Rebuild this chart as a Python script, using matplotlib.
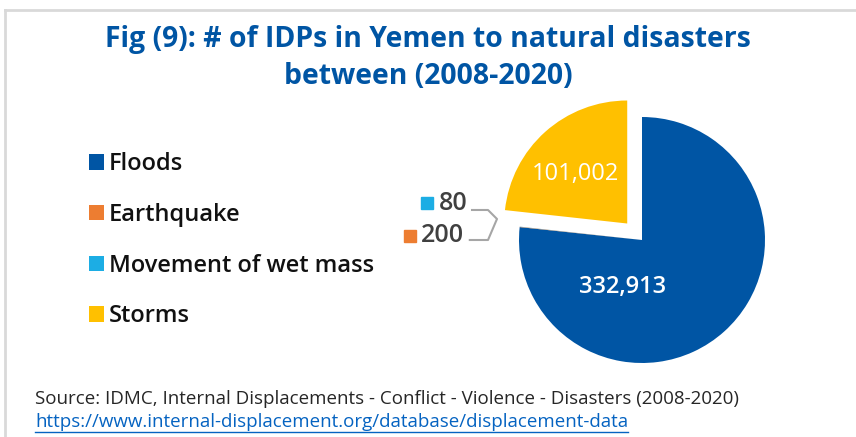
import matplotlib
matplotlib.use("Agg")
import matplotlib.pyplot as plt
from matplotlib.lines import Line2D

# Data
categories = ["Floods", "Earthquake", "Movement of wet mass", "Storms"]
idps = [332913, 200, 80, 101002]
colors = ["#0055A4", "#ED7D31", "#1CADE4", "#FFC000"]

plt.rcParams['font.family'] = ['Open Sans', 'DejaVu Sans']

W, H = 856, 437
fig = plt.figure(figsize=(W / 100, H / 100), dpi=100)

# light frame (top and left edges)
fig.add_artist(Line2D([5 / W, 1], [1 - 10 / H, 1 - 10 / H], color="#d9d9d9", lw=2))
fig.add_artist(Line2D([5 / W, 5 / W], [0, 1 - 10 / H], color="#d9d9d9", lw=2))

fig.text(0.5, 1 - 40 / H, "Fig (9): # of IDPs in Yemen to natural disasters",
         ha="center", va="center", fontsize=20.4, fontweight="bold", color="#0055A4")
fig.text(0.5, 1 - 77 / H, "between (2008-2020)",
         ha="center", va="center", fontsize=20.4, fontweight="bold", color="#0055A4")

# pie axes: centre at (642, 240) px, radius 123 px
cx, cy, r = 642, 240, 123
left, right, top, bottom = 400, 790, 95, 380
ax = fig.add_axes([left / W, 1 - bottom / H, (right - left) / W, (bottom - top) / H])
wedges, _ = ax.pie(idps, colors=colors, startangle=90, counterclock=False,
                   explode=[0, 0, 0, 0.18], wedgeprops=dict(linewidth=0))
ax.set_xlim((left - cx) / r, (right - cx) / r)
ax.set_ylim((cy - bottom) / r, (cy - top) / r)
ax.set_aspect("auto")
ax.axis("off")

ax.text(-0.16, -0.38, f"{idps[0]:,}", ha="center", va="center",
        fontsize=17, color="white", fontweight="semibold")
ax.text(-0.545, 0.537, f"{idps[3]:,}", ha="center", va="center",
        fontsize=17, color="white")

# small slices labelled outside with bracket leader
ax.plot([-1.748], [0.30], marker="s", ms=8, color=colors[2], clip_on=False)
ax.text(-1.655, 0.30, f"{idps[2]:,}", ha="left", va="center",
        fontsize=18, fontweight="semibold", color="#404040")
ax.plot([-1.886], [0.035], marker="s", ms=8, color=colors[1], clip_on=False)
ax.text(-1.80, 0.035, f"{idps[1]:,}", ha="left", va="center",
        fontsize=18, fontweight="semibold", color="#404040")
ax.plot([-1.382, -1.252, -1.179, -1.252, -1.40], [0.244, 0.244, 0.171, 0.0, 0.0],
        color="#a6a6a6", lw=1.5, clip_on=False)

# legend
leg = fig.legend(wedges, categories, loc="upper left",
                 bbox_to_anchor=(68 / W, 1 - 131 / H), frameon=False,
                 prop=dict(size=17, weight="semibold"), labelspacing=1.13,
                 handlelength=0.62, handleheight=0.62, handletextpad=0.22)
for t in leg.get_texts():
    t.set_color("#111111")

fig.text(35 / W, 1 - 399 / H,
         "Source: IDMC, Internal Displacements - Conflict - Violence - Disasters (2008-2020)",
         ha="left", va="center", fontsize=13.5, color="#262626")
fig.text(35 / W, 1 - 422 / H,
         "https://www.internal-displacement.org/database/displacement-data",
         ha="left", va="center", fontsize=13.5, color="#0563C1")
fig.add_artist(Line2D([35 / W, 628 / W], [1 - 432 / H, 1 - 432 / H], color="#0563C1", lw=1))

fig.savefig("out.png", dpi=100)
